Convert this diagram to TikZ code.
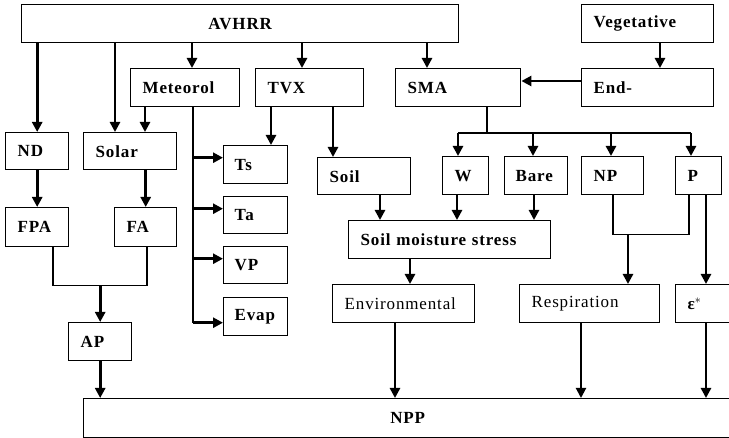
\documentclass[tikz,border=0pt]{standalone}
\usepackage{fontspec}
\setmainfont{Liberation Serif}[LetterSpace=5]
\usetikzlibrary{arrows.meta,calc}
\begin{document}
\begin{tikzpicture}[x=1pt,y=-1pt,
  bx/.style={draw, line width=1.4pt, inner xsep=12pt, inner ysep=0pt, anchor=north west,
    align=left, minimum height=38pt, font=\fontsize{17}{20}\selectfont\bfseries},
  lt/.style={font=\fontsize{17}{20}\selectfont},
  tk/.style={line width=2.8pt, -{Triangle[length=10pt,width=10pt]}},
  tm/.style={line width=2pt, -{Triangle[length=10pt,width=10pt]}},
  tn/.style={line width=1.4pt}]
\useasboundingbox (0,0) rectangle (729,438);
% boxes
\node[bx, text width=413pt, align=center] (AVHRR) at (21,4) {AVHRR};
\node[bx, text width=108pt] (Veg) at (581,4) {Vegetative};
\node[bx, text width=85pt] (Met) at (130,68) {Meteorol};
\node[bx, text width=84pt] (TVX) at (255,68) {TVX};
\node[bx, text width=101pt] (SMA) at (395,68) {SMA};
\node[bx, text width=108pt] (End) at (581,68) {End-};
\node[bx, text width=39pt, minimum height=37pt] (ND) at (5,132) {ND};
\node[bx, text width=69pt, minimum height=37pt] (Solar) at (83,132) {Solar};
\node[bx, text width=42pt, inner xsep=11pt] (Ts) at (223,145) {Ts};
\node[bx, text width=69pt, minimum height=37pt] (Soil) at (317,157) {Soil};
\node[bx, text width=22pt] (W) at (442,156) {W};
\node[bx, text width=41pt, inner xsep=11pt] (Bare) at (504,156) {Bare};
\node[bx, text width=38pt] (NP) at (581,156) {NP};
\node[bx, text width=22pt] (P) at (675,156) {P};
\node[bx, text width=42pt, inner xsep=11pt, minimum height=37pt] (Ta) at (223,196) {Ta};
\node[bx, text width=39pt, minimum height=39pt] (FPA) at (5,207) {FPA};
\node[bx, text width=38pt, minimum height=39pt] (FA) at (114,207) {FA};
\node[bx, text width=178pt] (SMS) at (348,220) {Soil moisture stress};
\node[bx, text width=42pt, inner xsep=11pt, minimum height=37pt] (VP) at (223,246) {VP};
\node[bx, lt, text width=118pt] (Env) at (332,284) {Environmental};
\node[bx, lt, text width=116pt] (Resp) at (519,284) {Respiration};
\node[bx, text width=32pt] (Eps) at (675,284) {ε$^{*}$};
\node[bx, text width=42pt, inner xsep=11pt] (Evap) at (223,297) {Evap};
\node[bx, text width=39pt] (AP) at (68,322) {AP};
\node[bx, text width=624pt, minimum height=39pt, align=center] (NPP) at (83,398) {NPP};
% connectors from AVHRR
\draw[tk] (AVHRR.south -| ND.north) -- (ND.north);
\coordinate (sA) at ([xshift=32pt]Solar.north west);
\draw[tk] (AVHRR.south -| sA) -- (sA);
\coordinate (mA) at ([xshift=62pt]Met.north west);
\draw[tk] (AVHRR.south -| mA) -- (mA);
\coordinate (tA) at ([xshift=47pt]TVX.north west);
\draw[tk] (AVHRR.south -| tA) -- (tA);
\coordinate (smA) at ([xshift=32pt]SMA.north west);
\draw[tk] (AVHRR.south -| smA) -- (smA);
% vegetative / end
\coordinate (vA) at ([xshift=79pt]End.north west);
\draw[tk] (Veg.south -| vA) -- (vA);
\coordinate (eA) at ([yshift=-13pt]End.north west);
\draw[tk] (eA) -- (eA -| SMA.east);
% meteorol
\coordinate (mS) at ([xshift=62pt]Solar.north west);
\draw[tk] (Met.south -| mS) -- (mS);
\coordinate (mL) at ([xshift=63pt]Met.south west);
\coordinate (tsA) at ([yshift=7pt]Ts.west);
\coordinate (taA) at ([yshift=6.5pt]Ta.west);
\coordinate (vpA) at ([yshift=6.5pt]VP.west);
\coordinate (evA) at ([yshift=-6pt]Evap.west);
\draw[tn] (mL) -- (mL |- evA);
\draw[tk] (mL |- tsA) -- (tsA);
\draw[tk] (mL |- taA) -- (taA);
\draw[tk] (mL |- vpA) -- (vpA);
\draw[tk] (mL |- evA) -- (evA);
% TVX
\coordinate (tsT) at ([xshift=48pt]Ts.north west);
\draw[tk] (TVX.south -| tsT) -- (tsT);
\coordinate (soT) at ([xshift=16pt]Soil.north west);
\draw[tk] (TVX.south -| soT) -- (soT);
% SMA tree
\coordinate (sB) at ([xshift=92pt]SMA.south west);
\coordinate (bus) at ([yshift=-26pt]sB);
\coordinate (wA) at ([xshift=16pt]W.north west);
\coordinate (bA) at ([xshift=29pt]Bare.north west);
\coordinate (nA) at ([xshift=30pt]NP.north west);
\coordinate (pA) at ([xshift=16pt]P.north west);
\draw[tn] (sB) -- (bus);
\draw[line width=1.8pt] (bus -| wA) -- (bus -| pA);
\draw[tk] (bus -| wA) -- (wA);
\draw[tk] (bus -| bA) -- (bA);
\draw[tk] (bus -| nA) -- (nA);
\draw[tk] (bus -| pA) -- (pA);
% left column
\draw[tk] (ND.south) -- (ND.south |- FPA.north);
\draw[tk] (Solar.south -| FA.north) -- (FA.north);
\coordinate (fpB) at ([xshift=48pt]FPA.south west);
\coordinate (faB) at ([xshift=33pt]FA.south west);
\coordinate (jn) at ([yshift=-38pt]fpB);
\draw[tn] (fpB) |- (jn -| faB) -- (faB);
\draw[tk] (jn -| AP.north) -- (AP.north);
\draw[tk] (AP.south) -- (AP.south |- NPP.north);
% soil moisture stress
\coordinate (soB) at ([xshift=63pt]Soil.south west);
\draw[tk] (soB) -- (soB |- SMS.north);
\coordinate (wB) at ([xshift=15pt]W.south west);
\draw[tk] (wB) -- (wB |- SMS.north);
\coordinate (bB) at ([xshift=30pt]Bare.south west);
\draw[tk] (bB) -- (bB |- SMS.north);
\coordinate (smB) at ([xshift=62pt]SMS.south west);
\draw[tk] (smB) -- (smB |- Env.north);
% NP / P
\coordinate (npB) at ([xshift=32pt]NP.south west);
\coordinate (pB) at ([xshift=14pt]P.south west);
\coordinate (jn2) at ([yshift=-39pt]npB);
\draw[tn] (npB) |- (jn2 -| pB) -- (pB);
\coordinate (rA) at ([xshift=109pt]Resp.north west);
\draw[tk] (jn2 -| rA) -- (rA);
\coordinate (pC) at ([xshift=31pt]P.south west);
\draw[tk] (pC) -- (pC |- Eps.north);
% to NPP
\coordinate (enB) at ([xshift=63pt]Env.south west);
\draw[tk] (enB) -- (enB |- NPP.north);
\coordinate (reB) at ([xshift=62pt]Resp.south west);
\draw[tm] (reB) -- (reB |- NPP.north);
\coordinate (epB) at ([xshift=31pt]Eps.south west);
\draw[tk] (epB) -- (epB |- NPP.north);
\end{tikzpicture}
\end{document}
